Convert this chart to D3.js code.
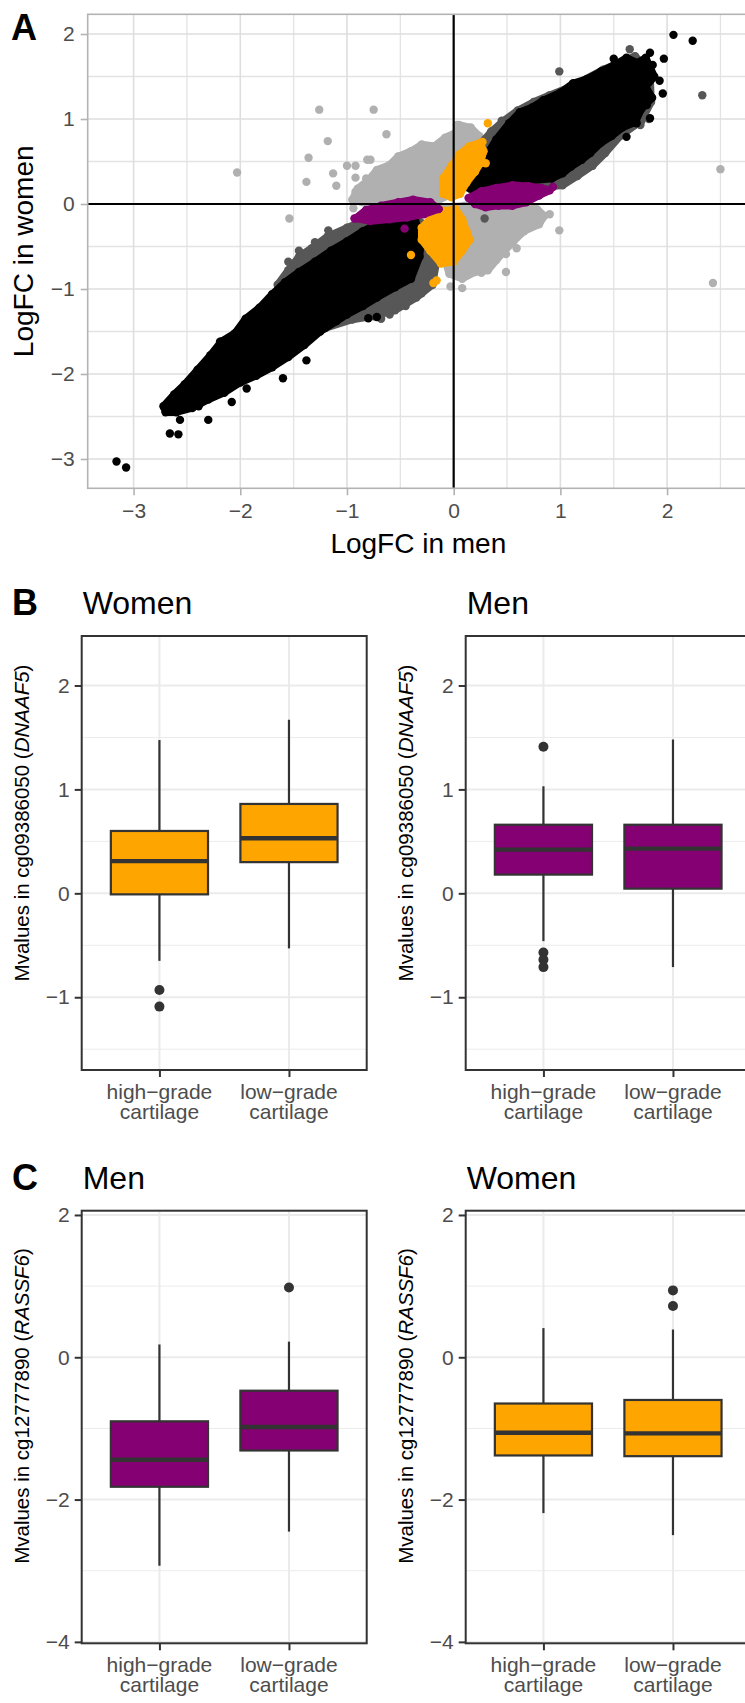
<!DOCTYPE html>
<html>
<head>
<meta charset="utf-8">
<script src="https://cdn.jsdelivr.net/npm/d3@7"></script>
<style>
  body { margin:0; background:#fff; }
  svg { display:block; font-family:"Liberation Sans", Arial, sans-serif; }
</style>
</head>
<body>
<svg id="fig" width="745" height="1703"></svg>
<script>
// ---------- panel A : logFC in men (x) vs logFC in women (y) ----------
var xTicksA = [-3, -2, -1, 0, 1, 2];
var yTicksA = [-3, -2, -1, 0, 1, 2];
var xMinorA = [-2.5, -1.5, -0.5, 0.5, 1.5, 2.5];
var yMinorA = [-2.5, -1.5, -0.5, 0.5, 1.5];

// dense clouds, outlined by the centres of their edge points
var lightUpper = [[-0.95,0.05],[-0.90,0.18],[-0.80,0.28],[-0.72,0.40],[-0.60,0.46],[-0.52,0.56],[-0.40,0.62],[-0.30,0.70],[-0.18,0.68],[-0.08,0.78],[0.02,0.84],[0.05,0.93],[0.16,0.90],[0.24,0.80],[0.22,0.62],[0.14,0.40],[0.04,0.16],[-0.15,0.04],[-0.45,0.00],[-0.75,-0.02]];
var lightLower = [[-0.20,-0.05],[0.10,-0.02],[0.35,-0.02],[0.60,-0.02],[0.78,-0.06],[0.85,-0.14],[0.80,-0.24],[0.66,-0.32],[0.56,-0.44],[0.48,-0.55],[0.40,-0.66],[0.32,-0.78],[0.20,-0.80],[0.08,-0.88],[-0.04,-0.82],[-0.10,-0.60],[-0.14,-0.40],[-0.18,-0.22]];
var darkUpper = [[0.06,0.28],[0.16,0.50],[0.26,0.72],[0.36,0.86],[0.46,0.97],[0.60,1.10],[0.75,1.20],[0.90,1.28],[1.10,1.38],[1.40,1.58],[1.70,1.74],[1.84,1.55],[1.85,1.20],[1.76,0.98],[1.56,0.80],[1.42,0.60],[1.30,0.45],[1.16,0.33],[1.02,0.22],[0.85,0.20],[0.60,0.19],[0.40,0.16],[0.20,0.12]];
var darkLower = [[-1.65,-0.95],[-1.55,-0.78],[-1.45,-0.62],[-1.33,-0.52],[-1.18,-0.38],[-1.00,-0.28],[-0.80,-0.18],[-0.60,-0.12],[-0.40,-0.12],[-0.22,-0.30],[-0.15,-0.60],[-0.20,-0.95],[-0.35,-1.10],[-0.55,-1.25],[-0.75,-1.32],[-0.95,-1.36],[-1.20,-1.46],[-1.50,-1.60]];
var blackUpper = [[0.12,0.20],[0.22,0.40],[0.32,0.60],[0.40,0.76],[0.52,0.95],[0.62,1.08],[0.74,1.14],[0.84,1.22],[1.00,1.31],[1.12,1.42],[1.25,1.47],[1.38,1.56],[1.50,1.63],[1.62,1.72],[1.72,1.66],[1.80,1.72],[1.88,1.50],[1.80,1.38],[1.86,1.25],[1.76,1.12],[1.70,0.96],[1.58,0.90],[1.48,0.80],[1.38,0.72],[1.28,0.60],[1.20,0.52],[1.10,0.44],[1.02,0.36],[0.92,0.30],[0.75,0.28],[0.55,0.27],[0.35,0.22],[0.20,0.15]];
var blackLower = [[-2.72,-2.38],[-2.62,-2.24],[-2.52,-2.12],[-2.40,-1.95],[-2.28,-1.78],[-2.18,-1.62],[-2.05,-1.52],[-1.95,-1.35],[-1.82,-1.22],[-1.70,-1.06],[-1.58,-0.92],[-1.45,-0.80],[-1.30,-0.68],[-1.15,-0.55],[-1.00,-0.44],[-0.85,-0.32],[-0.70,-0.22],[-0.58,-0.16],[-0.45,-0.13],[-0.36,-0.20],[-0.30,-0.38],[-0.32,-0.62],[-0.40,-0.88],[-0.55,-0.98],[-0.72,-1.10],[-0.85,-1.20],[-1.00,-1.30],[-1.10,-1.38],[-1.25,-1.50],[-1.40,-1.66],[-1.55,-1.80],[-1.70,-1.92],[-1.85,-2.02],[-2.00,-2.10],[-2.15,-2.22],[-2.30,-2.30],[-2.45,-2.40],[-2.60,-2.45],[-2.70,-2.45]];
var orangeUpper = [[-0.10,0.12],[-0.10,0.30],[-0.02,0.45],[0.05,0.58],[0.15,0.68],[0.25,0.72],[0.28,0.62],[0.25,0.48],[0.20,0.38],[0.12,0.25],[0.06,0.12],[-0.02,0.08]];
var orangeLower = [[-0.30,-0.28],[-0.20,-0.15],[-0.10,-0.08],[0.02,-0.06],[0.08,-0.18],[0.12,-0.32],[0.15,-0.42],[0.08,-0.55],[0.00,-0.68],[-0.12,-0.70],[-0.22,-0.55],[-0.30,-0.42]];
var purpleRight = [[0.14,0.07],[0.26,0.15],[0.40,0.19],[0.55,0.22],[0.70,0.21],[0.82,0.19],[0.90,0.16],[0.80,0.10],[0.68,0.02],[0.55,-0.02],[0.42,-0.02],[0.30,-0.04],[0.20,0.00]];
var purpleLeft = [[-0.92,-0.17],[-0.82,-0.07],[-0.68,-0.02],[-0.52,0.02],[-0.38,0.05],[-0.22,0.02],[-0.14,-0.06],[-0.28,-0.12],[-0.44,-0.16],[-0.60,-0.18],[-0.78,-0.20]];

// single points outside the clouds
var lightPts = [[-1.26,1.11],[-0.75,1.11],[-0.63,0.82],[-1.18,0.74],[-1.36,0.545],[-2.03,0.37],[-1.38,0.26],[-1.13,0.36],[-1.10,0.215],[-1.00,0.45],[-0.92,0.45],[-0.92,0.31],[-0.92,0.145],[-0.82,0.30],[-0.81,0.52],[-0.78,0.52],[-0.60,0.37],[-0.66,0.165],[-0.64,0.26],[-1.54,-0.17],[-0.78,0.07],[-0.94,-0.05],[2.50,0.41],[2.43,-0.93],[0.90,-0.12],[0.99,-0.31],[0.66,-0.27],[0.59,-0.52],[0.49,-0.59],[0.49,-0.80],[0.26,-0.81],[0.03,0.93],[0.08,-0.99],[-0.03,-0.97]];
var darkPts = [[2.33,1.28],[1.65,1.82],[0.99,1.56],[0.99,1.29],[0.29,-0.17],[-1.175,-0.31],[1.83,1.00],[0.45,0.98],[0.35,0.85],[1.30,0.45],[1.22,0.40],[1.75,0.93],[-1.55,-0.68],[-1.45,-0.55],[-1.30,-0.45],[-1.50,-0.86],[-0.60,-1.30],[-0.45,-1.20],[-0.30,-1.05],[-0.68,-1.35],[-0.20,-0.95],[-0.75,-1.22]];
var blackPts = [[2.06,1.99],[2.24,1.92],[1.97,1.71],[1.84,1.78],[1.865,1.635],[1.62,1.71],[1.50,1.71],[1.93,1.45],[1.96,1.30],[1.81,1.165],[1.84,1.01],[1.62,0.79],[1.715,0.95],[-3.16,-3.03],[-3.07,-3.10],[-2.69,-2.40],[-2.66,-2.70],[-2.58,-2.71],[-2.565,-2.54],[-2.30,-2.54],[-2.39,-2.38],[-2.60,-2.23],[-2.455,-2.14],[-2.19,-1.62],[-2.05,-1.58],[-1.85,-1.27],[-1.66,-1.05],[-1.60,-2.05],[-1.94,-2.17],[-2.08,-2.33],[-1.38,-1.84],[-0.80,-1.345],[-0.72,-1.33]];
var orangePts = [[0.32,0.95],[0.27,0.73],[0.30,0.48],[-0.40,-0.60],[-0.19,-0.93],[-0.16,-0.90]];
var purplePts = [[-0.93,-0.17],[-0.46,-0.29],[0.93,0.20],[0.86,0.15]];

// ---------- panels B and C : box plots ----------
var gradeCats = ["high", "low"];
var gradeLines = [["high\u2212grade", "cartilage"], ["low\u2212grade", "cartilage"]];
var yTicksB = [-1, 0, 1, 2];
var yMinorB = [-1.5, -0.5, 0.5, 1.5];
var yTicksC = [-4, -2, 0, 2];
var yMinorC = [-3, -1, 1];
// whisker low, q1, median, q3, whisker high, outliers
var womenB = [
  {cat:"high", lo:-0.65, q1:-0.01, med:0.31, q3:0.60, hi:1.475, out:[-0.93,-1.09]},
  {cat:"low",  lo:-0.53, q1:0.30,  med:0.53, q3:0.86, hi:1.67,  out:[]}
];
var menB = [
  {cat:"high", lo:-0.46, q1:0.18,  med:0.42, q3:0.66, hi:1.03, out:[1.41,-0.57,-0.64,-0.71]},
  {cat:"low",  lo:-0.71, q1:0.045, med:0.43, q3:0.66, hi:1.48, out:[]}
];
var menC = [
  {cat:"high", lo:-2.93, q1:-1.82, med:-1.44, q3:-0.90, hi:0.18, out:[]},
  {cat:"low",  lo:-2.45, q1:-1.31, med:-0.98, q3:-0.47, hi:0.22, out:[0.98]}
];
var womenC = [
  {cat:"high", lo:-2.19, q1:-1.38, med:-1.06, q3:-0.65, hi:0.41, out:[]},
  {cat:"low",  lo:-2.50, q1:-1.39, med:-1.07, q3:-0.60, hi:0.39, out:[0.94,0.72]}
];

var ORANGE = "#ffa500", PURPLE = "#850072";
var svg = d3.select("#fig");
var minus = function(v){ return String(v).replace("-", "\u2212"); };

// ================= panel A =================
(function(){
  var L = 87.7, R = 750.3, T = 14.3, B = 488.3;
  var x = d3.scaleLinear().domain([-3.43, 2.78]).range([L, R]);
  var y = d3.scaleLinear().domain([-3.345, 2.232]).range([B, T]);
  var g = svg.append("g");

  g.append("clipPath").attr("id", "clipA").append("rect")
    .attr("x", L).attr("y", T).attr("width", R - L).attr("height", B - T);

  // grid
  g.selectAll(".gxm").data(xMinorA).enter().append("line")
    .attr("x1", d => x(d)).attr("x2", d => x(d)).attr("y1", T).attr("y2", B)
    .attr("stroke", "#e3e3e3").attr("stroke-width", 1.3);
  g.selectAll(".gym").data(yMinorA).enter().append("line")
    .attr("y1", d => y(d)).attr("y2", d => y(d)).attr("x1", L).attr("x2", R)
    .attr("stroke", "#e3e3e3").attr("stroke-width", 1.3);
  g.selectAll(".gx").data(xTicksA).enter().append("line")
    .attr("x1", d => x(d)).attr("x2", d => x(d)).attr("y1", T).attr("y2", B)
    .attr("stroke", "#dedede").attr("stroke-width", 1.6);
  g.selectAll(".gy").data(yTicksA).enter().append("line")
    .attr("y1", d => y(d)).attr("y2", d => y(d)).attr("x1", L).attr("x2", R)
    .attr("stroke", "#dedede").attr("stroke-width", 1.6);

  var pts = g.append("g").attr("clip-path", "url(#clipA)");
  var cloud = d3.line().x(d => x(d[0])).y(d => y(d[1])).curve(d3.curveLinearClosed);
  var R0 = 4.2;
  function layer(polys, dots, col){
    polys.forEach(function(p){
      pts.append("path").attr("d", cloud(p)).attr("fill", col)
        .attr("stroke", col).attr("stroke-width", 2 * R0 - 1).attr("stroke-linejoin", "round");
      pts.selectAll(null).data(p).enter().append("circle")
        .attr("cx", d => x(d[0])).attr("cy", d => y(d[1])).attr("r", R0).attr("fill", col);
    });
    pts.selectAll(null).data(dots).enter().append("circle")
      .attr("cx", d => x(d[0])).attr("cy", d => y(d[1])).attr("r", R0).attr("fill", col);
  }
  layer([lightUpper, lightLower], lightPts, "#b0b0b0");
  layer([darkUpper, darkLower], darkPts, "#575757");
  layer([blackUpper, blackLower], blackPts, "#000000");
  layer([orangeUpper, orangeLower], orangePts, ORANGE);
  layer([purpleLeft, purpleRight], purplePts, PURPLE);

  // zero lines
  g.append("line").attr("x1", L).attr("x2", R).attr("y1", y(0)).attr("y2", y(0))
    .attr("stroke", "#000").attr("stroke-width", 2.2);
  g.append("line").attr("x1", x(0)).attr("x2", x(0)).attr("y1", T).attr("y2", B)
    .attr("stroke", "#000").attr("stroke-width", 2.2);

  g.append("rect").attr("x", L).attr("y", T).attr("width", R - L).attr("height", B - T)
    .attr("fill", "none").attr("stroke", "#b3b3b3").attr("stroke-width", 1.6);

  // axes
  var xa = d3.axisBottom(x).tickValues(xTicksA).tickSize(7).tickPadding(8).tickFormat(minus);
  var ya = d3.axisLeft(y).tickValues(yTicksA).tickSize(7).tickPadding(6).tickFormat(minus);
  var gx = g.append("g").attr("transform", "translate(0," + B + ")").call(xa);
  var gy = g.append("g").attr("transform", "translate(" + L + ",0)").call(ya);
  [gx, gy].forEach(function(a){
    a.select(".domain").remove();
    a.selectAll(".tick line").attr("stroke", "#b3b3b3").attr("stroke-width", 1.6);
    a.selectAll(".tick text").attr("fill", "#4d4d4d").style("font-size", "21px");
  });

  g.append("text").attr("x", (L + 745) / 2 + 2).attr("y", 553).attr("text-anchor", "middle")
    .style("font-size", "28px").text("LogFC in men");
  g.append("text").attr("transform", "translate(33," + ((T + B) / 2) + ") rotate(-90)")
    .attr("text-anchor", "middle").style("font-size", "28px").text("LogFC in women");
  g.append("text").attr("x", 11).attr("y", 40).style("font-size", "36px")
    .style("font-weight", "bold").text("A");
})();

// ================= panels B and C =================
function boxPanel(o){
  var L = o.left, R = o.left + 285, T = o.top, B = o.bottom;
  var x = d3.scalePoint().domain(gradeCats).range([L, R]).padding(0.6);
  var y = d3.scaleLinear().domain(o.yDomain).range([B, T]);
  var bw = x.step() * 0.75;
  var g = svg.append("g");

  g.selectAll(null).data(o.minor).enter().append("line")
    .attr("x1", L).attr("x2", R).attr("y1", d => y(d)).attr("y2", d => y(d))
    .attr("stroke", "#ebebeb").attr("stroke-width", 1);
  g.selectAll(null).data(o.ticks).enter().append("line")
    .attr("x1", L).attr("x2", R).attr("y1", d => y(d)).attr("y2", d => y(d))
    .attr("stroke", "#ebebeb").attr("stroke-width", 2);
  g.selectAll(null).data(gradeCats).enter().append("line")
    .attr("x1", d => x(d)).attr("x2", d => x(d)).attr("y1", T).attr("y2", B)
    .attr("stroke", "#ebebeb").attr("stroke-width", 2);

  var bx = g.selectAll(null).data(o.stats).enter().append("g");
  bx.append("line").attr("x1", d => x(d.cat)).attr("x2", d => x(d.cat))
    .attr("y1", d => y(d.hi)).attr("y2", d => y(d.lo))
    .attr("stroke", "#333").attr("stroke-width", 2.2);
  bx.append("rect").attr("x", d => x(d.cat) - bw / 2).attr("width", bw)
    .attr("y", d => y(d.q3)).attr("height", d => y(d.q1) - y(d.q3))
    .attr("fill", o.fill).attr("stroke", "#333").attr("stroke-width", 2.2);
  bx.append("line").attr("x1", d => x(d.cat) - bw / 2).attr("x2", d => x(d.cat) + bw / 2)
    .attr("y1", d => y(d.med)).attr("y2", d => y(d.med))
    .attr("stroke", "#333").attr("stroke-width", 4.4);
  bx.each(function(d){
    d3.select(this).selectAll("circle").data(d.out).enter().append("circle")
      .attr("cx", x(d.cat)).attr("cy", v => y(v)).attr("r", 5).attr("fill", "#333");
  });

  g.append("rect").attr("x", L).attr("y", T).attr("width", R - L).attr("height", B - T)
    .attr("fill", "none").attr("stroke", "#333").attr("stroke-width", 2);

  var ya = d3.axisLeft(y).tickValues(o.ticks).tickSize(7).tickPadding(5).tickFormat(minus);
  var gy = g.append("g").attr("transform", "translate(" + L + ",0)").call(ya);
  gy.select(".domain").remove();
  gy.selectAll(".tick line").attr("stroke", "#333").attr("stroke-width", 2);
  gy.selectAll(".tick text").attr("fill", "#4d4d4d").style("font-size", "21px");

  var xa = d3.axisBottom(x).tickSize(7).tickFormat("");
  var gx = g.append("g").attr("transform", "translate(0," + B + ")").call(xa);
  gx.select(".domain").remove();
  gx.selectAll(".tick line").attr("stroke", "#333").attr("stroke-width", 2);
  gradeCats.forEach(function(c, i){
    var t = g.append("text").attr("text-anchor", "middle").attr("fill", "#4d4d4d")
      .style("font-size", "21px");
    gradeLines[i].forEach(function(s, k){
      t.append("tspan").attr("x", x(c)).attr("y", B + 29 + k * 20).text(s);
    });
  });

  var yt = g.append("text")
    .attr("transform", "translate(" + (L - 53) + "," + o.yTitleY + ") rotate(-90)")
    .attr("text-anchor", "middle").style("font-size", "20.5px");
  yt.append("tspan").text(o.yTitle[0]);
  yt.append("tspan").style("font-style", "italic").text(o.yTitle[1]);
  yt.append("tspan").text(")");

  g.append("text").attr("x", L + 1).attr("y", o.titleY).style("font-size", "32px").text(o.title);
  if (o.letter) {
    g.append("text").attr("x", 12).attr("y", o.titleY + 1).style("font-size", "36px")
      .style("font-weight", "bold").text(o.letter);
  }
}

var titleB = ["Mvalues in cg09386050 (", "DNAAF5"];
var titleC = ["Mvalues in cg12777890 (", "RASSF6"];
boxPanel({left:81.7, top:636, bottom:1070, yDomain:[-1.70, 2.476], ticks:yTicksB, minor:yMinorB,
  stats:womenB, fill:ORANGE, title:"Women", titleY:614, letter:"B", yTitle:titleB, yTitleY:823});
boxPanel({left:465.7, top:636, bottom:1070, yDomain:[-1.70, 2.476], ticks:yTicksB, minor:yMinorB,
  stats:menB, fill:PURPLE, title:"Men", titleY:614, letter:null, yTitle:titleB, yTitleY:823});
boxPanel({left:81.7, top:1210.7, bottom:1643.3, yDomain:[-4.02, 2.06], ticks:yTicksC, minor:yMinorC,
  stats:menC, fill:PURPLE, title:"Men", titleY:1189, letter:"C", yTitle:titleC, yTitleY:1406});
boxPanel({left:465.7, top:1210.7, bottom:1643.3, yDomain:[-4.02, 2.06], ticks:yTicksC, minor:yMinorC,
  stats:womenC, fill:ORANGE, title:"Women", titleY:1189, letter:null, yTitle:titleC, yTitleY:1406});
</script>
</body>
</html>
